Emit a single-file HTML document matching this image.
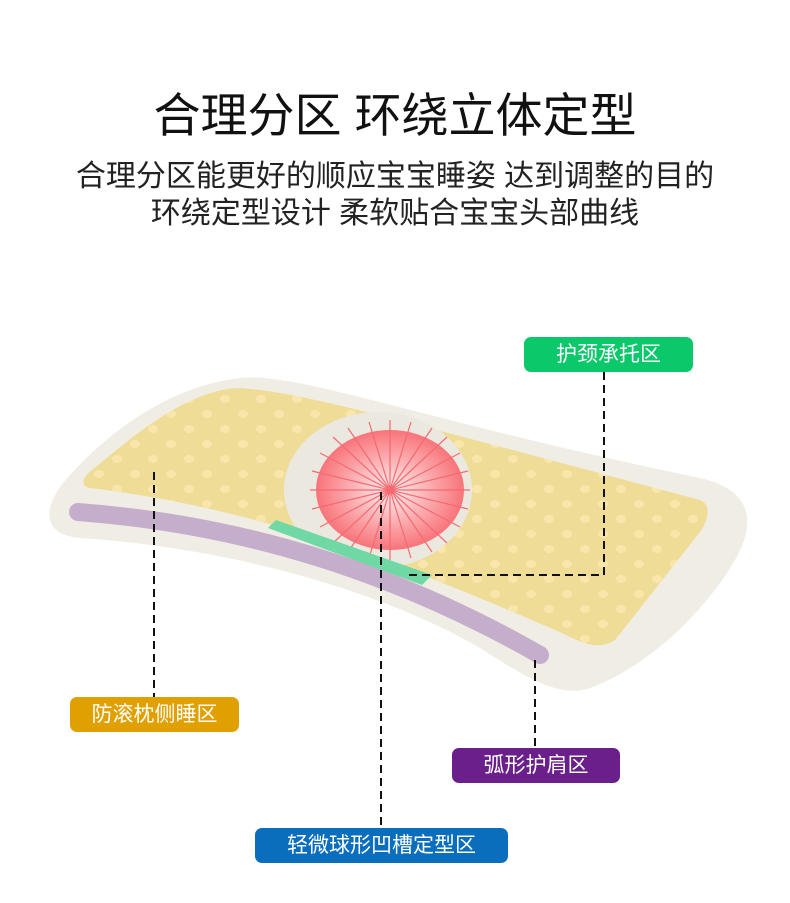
<!DOCTYPE html>
<html><head><meta charset="utf-8"><style>
body{margin:0;width:790px;height:903px;background:#fff;overflow:hidden;position:relative;font-family:"Liberation Sans","Noto Sans CJK SC",sans-serif}
.t{position:absolute;left:0;width:790px;text-align:center;color:#111;white-space:nowrap}
.lb{position:absolute;color:#fff;font-size:21px;border-radius:7px;text-align:center;line-height:35px;height:35px}
</style></head><body>
<div class="t" style="top:86px;font-size:47px;line-height:60px;">合理分区 环绕立体定型</div>
<div class="t" style="top:159px;font-size:30px;line-height:36px;color:#222">合理分区能更好的顺应宝宝睡姿 达到调整的目的</div>
<div class="t" style="top:196px;font-size:30px;line-height:36px;color:#222">环绕定型设计 柔软贴合宝宝头部曲线</div>
<svg width="790" height="903" style="position:absolute;left:0;top:0">
<defs>
<radialGradient id="rg" cx="0.5" cy="0.5" r="0.5"><stop offset="0" stop-color="#fff0f0"/><stop offset="1" stop-color="#f8747a"/></radialGradient>
<pattern id="dots" width="36" height="30" patternUnits="userSpaceOnUse"><ellipse cx="9" cy="9" rx="5" ry="4" fill="#fbe9b0"/><ellipse cx="27" cy="24" rx="5" ry="4" fill="#fbe9b0"/></pattern>
</defs>
<path d="M240,378 C300,372 420,420 700,478 C760,492 752,530 735,560 C700,620 640,670 590,688 C560,698 530,680 480,648 C380,590 230,548 80,538 C40,535 42,505 70,475 C120,420 180,385 240,378 Z" fill="#f0ede4"/>
<path d="M238,388 C300,392 370,412 700,500 C712,505 708,520 700,532 L615,640 C600,650 585,645 560,632 C450,585 280,510 90,488 C80,486 82,478 92,470 C140,430 190,390 238,388 Z" fill="#efdc97"/>
<path d="M238,388 C300,392 370,412 700,500 C712,505 708,520 700,532 L615,640 C600,650 585,645 560,632 C450,585 280,510 90,488 C80,486 82,478 92,470 C140,430 190,390 238,388 Z" fill="url(#dots)" opacity="0.8"/>
<ellipse cx="378" cy="490" rx="94" ry="78" fill="#ebe8e0"/>
<ellipse cx="390" cy="490" rx="74" ry="60" fill="url(#rg)"/>
<g stroke="#f46a72" stroke-width="1.2">
<line x1="310" y1="490" x2="470" y2="490"/><line x1="390" y1="420" x2="390" y2="560"/>
<line x1="320" y1="453" x2="460" y2="527"/><line x1="320" y1="527" x2="460" y2="453"/>
<line x1="348" y1="428" x2="432" y2="552"/><line x1="348" y1="552" x2="432" y2="428"/>
<line x1="369" y1="422" x2="411" y2="558"/><line x1="369" y1="558" x2="411" y2="422"/>
<line x1="312" y1="471" x2="468" y2="509"/><line x1="312" y1="509" x2="468" y2="471"/>
<line x1="333" y1="437" x2="447" y2="543"/><line x1="333" y1="543" x2="447" y2="437"/>
</g>
<path d="M78,512 C250,525 400,575 540,655" stroke="#c4aecb" stroke-width="18" fill="none" stroke-linecap="round"/>
<polygon points="268,528 276,520 432,575 422,585" fill="#6fd8a4"/>
<g stroke="#111" stroke-width="2" stroke-dasharray="8,5" fill="none">
<polyline points="604,372 604,575 405,575"/>
<line x1="154" y1="472" x2="154" y2="697"/>
<line x1="535" y1="660" x2="535" y2="748"/>
<line x1="381" y1="492" x2="381" y2="828"/>
</g>
</svg>
<div class="lb" style="left:524px;top:337px;width:169px;background:#0bc86a">护颈承托区</div>
<div class="lb" style="left:70px;top:697px;width:169px;background:#e0a000">防滚枕侧睡区</div>
<div class="lb" style="left:452px;top:748px;width:168px;background:#6a1f8a">弧形护肩区</div>
<div class="lb" style="left:255px;top:828px;width:253px;background:#0a6ebd">轻微球形凹槽定型区</div>
</body></html>
